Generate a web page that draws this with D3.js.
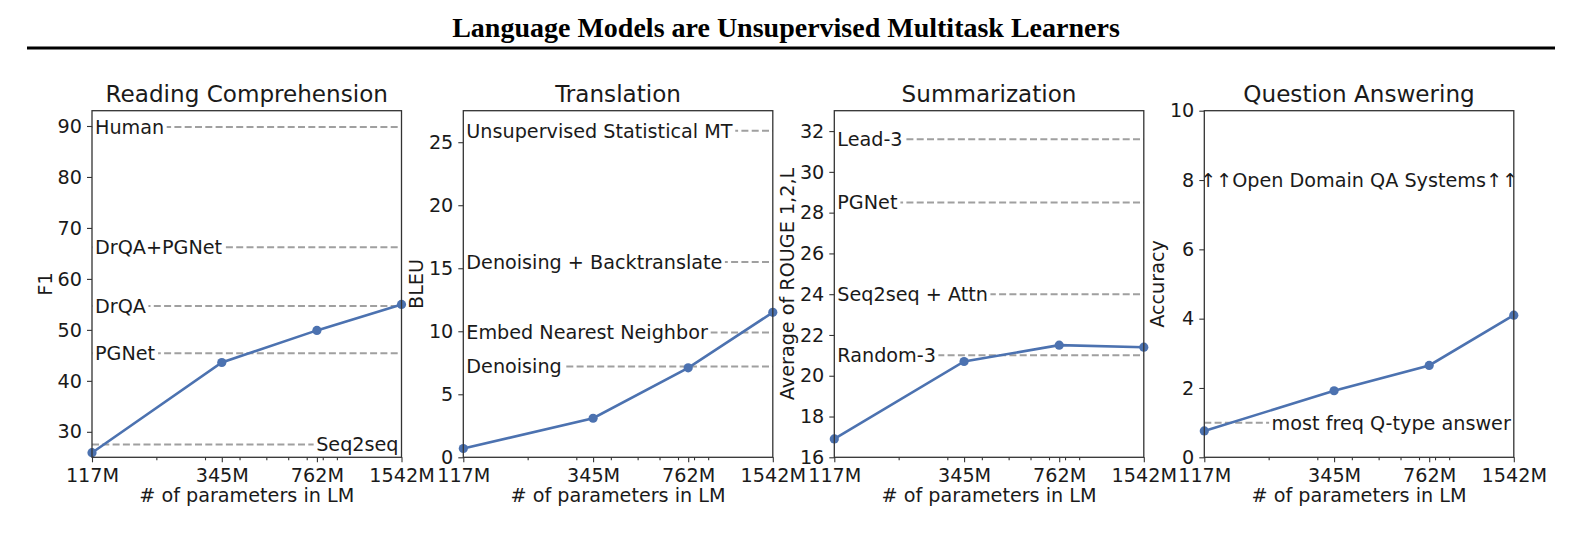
<!DOCTYPE html>
<html>
<head>
<meta charset="utf-8">
<script src="https://d3js.org/d3.v7.min.js"></script>
<style>
  body { margin: 0; background: #fff; }
  text { font-family: "DejaVu Sans", sans-serif; fill: #1a1a1a; }
</style>
</head>
<body>
<svg id="chart" width="1579" height="535"></svg>
<script>
// GPT-2 zero-shot results vs model size, four tasks

var modelSizes = [117, 345, 762, 1542];
var sizeLabels = ["117M", "345M", "762M", "1542M"];
var minorSizes = [200, 300, 400, 500, 600, 700, 800, 900];

var panelTitles = ["Reading Comprehension", "Translation", "Summarization", "Question Answering"];
var yTitles = ["F1", "BLEU", "Average of ROUGE 1,2,L", "Accuracy"];

var rcF1 = [25.9, 43.6, 49.9, 55.0];
var mtBleu = [0.7, 3.1, 7.1, 11.5];
var sumRouge = [16.9, 20.7, 21.5, 21.4];
var qaAcc = [0.76, 1.92, 2.65, 4.1];

var rcDomain = [25, 93], mtDomain = [0, 27.5], sumDomain = [16, 33], qaDomain = [0, 10];
var rcTicks = [30, 40, 50, 60, 70, 80, 90];
var mtTicks = [0, 5, 10, 15, 20, 25];
var sumTicks = [16, 18, 20, 22, 24, 26, 28, 30, 32];
var qaTicks = [0, 2, 4, 6, 8, 10];

// baselines: name, value, side of the label
var rcBaseNames = ["Human", "DrQA+PGNet", "DrQA", "PGNet", "Seq2seq"];
var rcBaseVals = [89.8, 66.2, 54.7, 45.4, 27.5];
var rcBaseSide = ["L", "L", "L", "L", "R"];

var mtBaseNames = ["Unsupervised Statistical MT", "Denoising + Backtranslate", "Embed Nearest Neighbor", "Denoising"];
var mtBaseVals = [25.9, 15.5, 9.9, 7.2];
var mtBaseSide = ["L", "L", "L", "L"];

var sumBaseNames = ["Lead-3", "PGNet", "Seq2seq + Attn", "Random-3"];
var sumBaseVals = [31.6, 28.5, 24.0, 21.0];
var sumBaseSide = ["L", "L", "L", "L"];

var qaBaseNames = ["most freq Q-type answer", "\u2191\u2191Open Domain QA Systems\u2191\u2191"];
var qaBaseVals = [1.0, 8];
var qaBaseSide = ["R", "C"];

var panels = [
  {title: panelTitles[0], ylab: yTitles[0], vals: rcF1, dom: rcDomain, ticks: rcTicks, bn: rcBaseNames, bv: rcBaseVals, bs: rcBaseSide},
  {title: panelTitles[1], ylab: yTitles[1], vals: mtBleu, dom: mtDomain, ticks: mtTicks, bn: mtBaseNames, bv: mtBaseVals, bs: mtBaseSide},
  {title: panelTitles[2], ylab: yTitles[2], vals: sumRouge, dom: sumDomain, ticks: sumTicks, bn: sumBaseNames, bv: sumBaseVals, bs: sumBaseSide},
  {title: panelTitles[3], ylab: yTitles[3], vals: qaAcc, dom: qaDomain, ticks: qaTicks, bn: qaBaseNames, bv: qaBaseVals, bs: qaBaseSide}
];

var svg = d3.select("#chart");
var lefts = [92, 463.3, 834.3, 1204.3];
var pw = 309.5, plotTop = 110.7, plotBottom = 457.3;
var fs = 19.2;
var blue = "#4c72b0";

// page header
svg.append("text")
  .attr("x", 786).attr("y", 37.3)
  .attr("text-anchor", "middle")
  .style("font-family", "'Liberation Serif', 'Times New Roman', serif")
  .style("font-weight", "bold")
  .style("font-size", "28px")
  .style("fill", "#000")
  .text("Language Models are Unsupervised Multitask Learners");
svg.append("line")
  .attr("x1", 27).attr("x2", 1555).attr("y1", 48).attr("y2", 48)
  .attr("stroke", "#000").attr("stroke-width", 3);

panels.forEach(function(p, i){
  var x0 = lefts[i];
  var x = d3.scaleLog().domain([117, 1542]).range([x0, x0 + pw]);
  var y = d3.scaleLinear().domain(p.dom).range([plotBottom, plotTop]);
  var g = svg.append("g");

  // baselines (dashed) with white-boxed labels
  p.bn.forEach(function(name, k){
    var yy = y(p.bv[k]);
    var side = p.bs[k];
    if (side != "C") {
      g.append("line")
        .attr("x1", x0).attr("x2", x0 + pw)
        .attr("y1", yy).attr("y2", yy)
        .attr("stroke", "#a0a0a0").attr("stroke-width", 2)
        .attr("stroke-dasharray", "7,3.3");
    }
    var tx = side == "L" ? x0 + 3 : (side == "R" ? x0 + pw - 3 : x0 + pw / 2);
    var anchor = side == "L" ? "start" : (side == "R" ? "end" : "middle");
    var bg = g.append("rect").attr("fill", "#fff");
    var t = g.append("text")
      .attr("x", tx).attr("y", yy).attr("dy", "0.36em")
      .attr("text-anchor", anchor)
      .style("font-size", fs + "px")
      .text(name);
    var bb = t.node().getBBox();
    bg.attr("x", bb.x - 2.5).attr("y", bb.y).attr("width", bb.width + 5).attr("height", bb.height);
  });

  // the GPT-2 curve
  var line = d3.line()
    .x(function(d, j){ return x(modelSizes[j]); })
    .y(function(d){ return y(d); });
  g.append("path")
    .datum(p.vals)
    .attr("d", line)
    .attr("fill", "none")
    .attr("stroke", blue)
    .attr("stroke-width", 2.6);
  g.selectAll("circle.pt")
    .data(p.vals)
    .enter().append("circle")
    .attr("class", "pt")
    .attr("cx", function(d, j){ return x(modelSizes[j]); })
    .attr("cy", function(d){ return y(d); })
    .attr("r", 4.6)
    .attr("fill", blue);

  // axes
  var xAx = d3.axisBottom(x)
    .tickValues(modelSizes)
    .tickFormat(function(d, j){ return sizeLabels[j]; })
    .tickSize(5).tickPadding(6);
  var xMinor = d3.axisBottom(x)
    .tickValues(minorSizes)
    .tickFormat("")
    .tickSize(3);
  var yAx = d3.axisLeft(y)
    .tickValues(p.ticks)
    .tickSize(5).tickPadding(5);

  var gx = g.append("g").attr("transform", "translate(0," + plotBottom + ")").call(xAx);
  var gm = g.append("g").attr("transform", "translate(0," + plotBottom + ")").call(xMinor);
  var gy = g.append("g").attr("transform", "translate(" + x0 + ",0)").call(yAx);
  [gx, gm, gy].forEach(function(a){
    a.select(".domain").remove();
    a.selectAll("line").attr("stroke", "#333").attr("stroke-width", 1.1);
    a.selectAll("text").style("font-size", fs + "px").style("font-family", "'DejaVu Sans'").attr("fill", "#1a1a1a");
  });

  // frame
  g.append("rect")
    .attr("x", x0).attr("y", plotTop)
    .attr("width", pw).attr("height", plotBottom - plotTop)
    .attr("fill", "none").attr("stroke", "#333").attr("stroke-width", 1.3);

  // titles
  g.append("text")
    .attr("x", x0 + pw / 2).attr("y", 102)
    .attr("text-anchor", "middle")
    .style("font-size", "23.1px")
    .text(p.title);
  g.append("text")
    .attr("x", x0 + pw / 2).attr("y", 502)
    .attr("text-anchor", "middle")
    .style("font-size", fs + "px")
    .text("# of parameters in LM");
  g.append("text")
    .attr("transform", "translate(" + (x0 - 40) + "," + ((plotTop + plotBottom) / 2) + ") rotate(-90)")
    .attr("text-anchor", "middle")
    .style("font-size", fs + "px")
    .text(p.ylab);
});
</script>
</body>
</html>
